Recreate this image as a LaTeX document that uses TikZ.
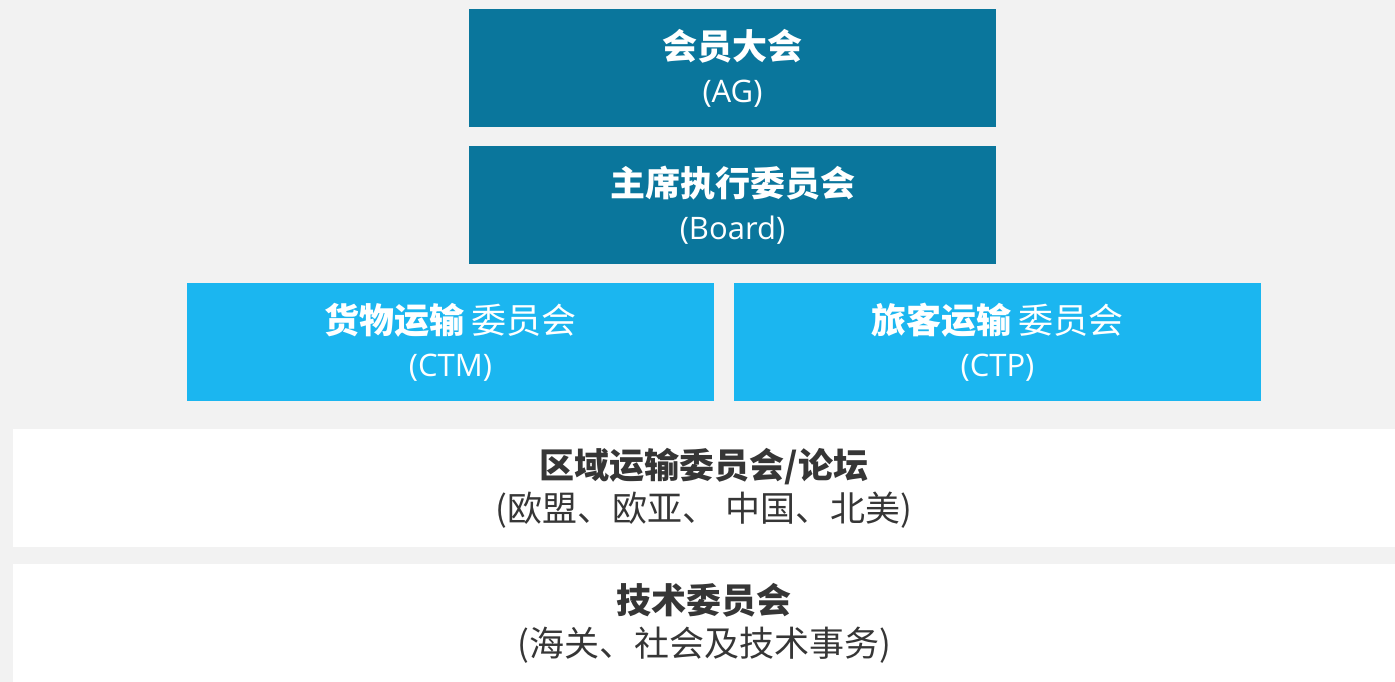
\documentclass[tikz,border=0pt]{standalone}
\usepackage{fontspec}
\setmainfont{Noto Sans CJK SC}
\newfontfamily\lat{Open Sans}
\definecolor{bg}{HTML}{F2F2F2}
\definecolor{darkteal}{HTML}{0A769C}
\definecolor{skyblue}{HTML}{1BB6F0}
\definecolor{txtgray}{HTML}{363636}
\newcommand{\latline}[1]{{\lat\fontsize{31}{43}\selectfont #1}}
\tikzset{
  box/.style={rectangle, inner sep=0pt, outer sep=0pt, align=center,
    minimum height=118pt, font=\fontsize{35}{43}\selectfont},
  topbox/.style={box, fill=darkteal, text=white, minimum width=527pt},
  midbox/.style={box, fill=skyblue, text=white, minimum width=527pt},
  bar/.style={box, fill=white, text=txtgray, minimum width=1382pt},
}
\begin{document}
\begin{tikzpicture}[x=1pt,y=-1pt]
\fill[bg] (0,0) rectangle (1395,682);
\useasboundingbox (0,0) rectangle (1395,682);
\node[topbox] (ag) at (732.5,68) {\textbf{会员大会}\\\latline{(AG)}};
\node[topbox] (board) at (732.5,205) {\textbf{主席执行委员会}\\\latline{(Board)}};
\node[midbox] (ctm) at (450.5,342) {\textbf{货物运输} 委员会\\\latline{(CTM)}};
\node[midbox] (ctp) at (997.5,342) {\textbf{旅客运输} 委员会\\\latline{(CTP)}};
\node[bar] (region) at (704,488) {\textbf{区域运输委员会/论坛}\\(欧盟、欧亚、 中国、北美)};
\node[bar] (tech) at (704,623) {\textbf{技术委员会}\\(海关、社会及技术事务)};
\end{tikzpicture}
\end{document}
